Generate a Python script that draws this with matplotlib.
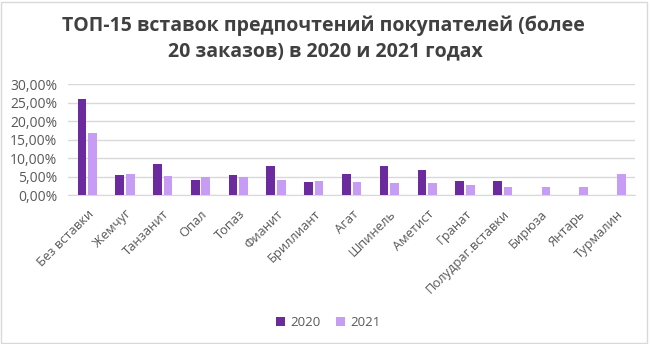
import matplotlib.pyplot as plt
import numpy as np
from matplotlib.ticker import FuncFormatter
from matplotlib.patches import Rectangle

categories = ["Без вставки", "Жемчуг", "Танзанит", "Опал", "Топаз", "Фианит",
              "Бриллиант", "Агат", "Шпинель", "Аметист", "Гранат",
              "Полудраг.вставки", "Бирюза", "Янтарь", "Турмалин"]
share_2020 = [26.1, 5.4, 8.3, 4.0, 5.4, 7.9, 3.6, 5.7, 7.8, 6.8, 3.9, 3.7, 0, 0, 0]
share_2021 = [16.8, 5.6, 5.1, 5.0, 4.9, 4.0, 3.9, 3.5, 3.3, 3.2, 2.7, 2.3, 2.3, 2.3, 5.7]
series_labels = ["2020", "2021"]
yticks = [0, 5, 10, 15, 20, 25, 30]

plt.rcParams['font.family'] = ['Open Sans', 'DejaVu Sans']
text_color = "#595959"
c2020 = "#6B2A9E"
c2021 = "#C79CF4"

fig = plt.figure(figsize=(6.5, 3.44), dpi=100)
ax = fig.add_axes([0.105, 0.433, 0.872, 0.322])

x = np.arange(len(categories))
w = 0.23
gap = 0.05
ax.bar(x - (w + gap) / 2, share_2020, w, color=c2020, label=series_labels[0], zorder=3)
ax.bar(x + (w + gap) / 2, share_2021, w, color=c2021, label=series_labels[1], zorder=3)

ax.set_xlim(-0.5, len(categories) - 0.5)
ax.set_ylim(0, 30)
ax.set_yticks(yticks)
ax.yaxis.set_major_formatter(FuncFormatter(lambda v, p: f"{v:.2f}%".replace(".", ",")))
ax.grid(axis='y', color="#D9D9D9", linewidth=1, zorder=0)
for s in ["top", "right", "left"]:
    ax.spines[s].set_visible(False)
ax.spines["bottom"].set_color("#D9D9D9")
ax.tick_params(axis='y', length=0, labelsize=10, labelcolor=text_color, pad=8)
ax.tick_params(axis='x', length=0, labelcolor=text_color, pad=9)
ax.set_xticks(x)
ax.set_xticklabels(categories, rotation=45, ha='right', rotation_mode='anchor',
                   fontsize=9.3)

fig.text(0.497, 0.925, "ТОП-15 вставок предпочтений покупателей (более",
         ha='center', va='center', fontsize=14, fontweight='bold', color="#404040")
fig.text(0.500, 0.850, "20 заказов) в 2020 и 2021 годах",
         ha='center', va='center', fontsize=14, fontweight='bold', color="#404040")

leg = fig.legend(loc='center', bbox_to_anchor=(0.505, 0.062), ncol=2, frameon=False,
                 fontsize=9.5, handlelength=0.7, handleheight=0.7, columnspacing=1.2,
                 handletextpad=0.4)
for t in leg.get_texts():
    t.set_color(text_color)

fig.patches.append(Rectangle((0.002, 0.004), 0.993, 0.99, transform=fig.transFigure,
                             fill=False, edgecolor="#D9D9D9", linewidth=1))

fig.savefig("out.png", dpi=100)
